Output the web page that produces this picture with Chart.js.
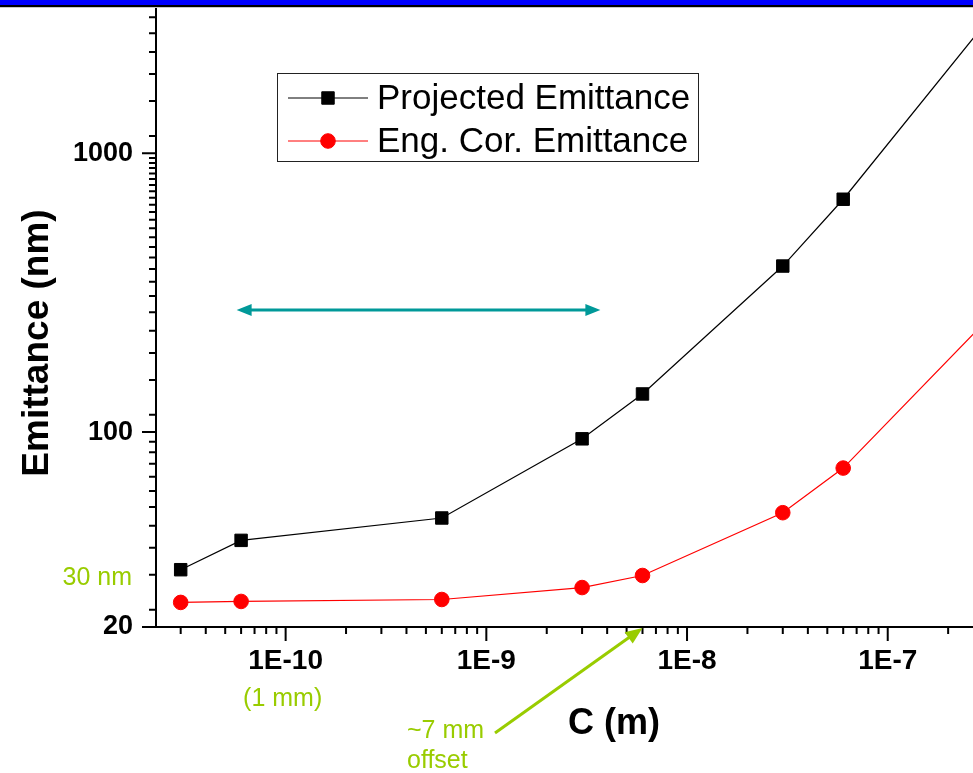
<!DOCTYPE html>
<html>
<head>
<meta charset="utf-8">
<script src="https://cdn.jsdelivr.net/npm/chart.js@4.4.0/dist/chart.umd.min.js"></script>
<style>
    html, body { margin: 0; padding: 0; background: #fff; overflow: hidden; }
    #wrap { position: relative; width: 973px; height: 773px; }
    #chart { position: absolute; left: 0; top: 0; }
    #bar  { position: absolute; left: 0; top: 0; width: 973px; height: 5px; background: #0000ff; border-bottom: 2px solid #000; }
    #rule { position: absolute; left: 0; top: 7px; width: 973px; height: 1px; background: #c8c8c8; }
</style>
</head>
<body>
<div id="wrap">
    <canvas id="chart" width="973" height="773"></canvas>
    <div id="bar"></div>
    <div id="rule"></div>
</div>
<script>
(function () {
    'use strict';

    // ── Data ─────────────────────────────────────────────────────────────────
    var cValues   = [3e-11, 6e-11, 6e-10, 3e-9, 6e-9, 3e-8, 6e-8, 3e-7];
    var projected = [32.1, 40.9, 49.2, 94.6, 137, 394, 684, 2870];
    var engCor    = [24.5, 24.7, 25.1, 27.7, 30.6, 51.4, 74.3, 245];

    var xMin = 2.26e-11, xMax = 2.66e-7;
    var yMin = 20,       yMax = 3318;

    var xTickValues = [1e-10, 1e-9, 1e-8, 1e-7];
    var xTickLabels = ['1E-10', '1E-9', '1E-8', '1E-7'];
    var yTickValues = [20, 100, 1000];
    var yTickLabels = ['20', '100', '1000'];

    // x minor ticks: 2..9 of every decade
    var xMinor = [];
    [1e-11, 1e-10, 1e-9, 1e-8, 1e-7].forEach(function (d) {
        for (var k = 2; k <= 9; k++) if (d * k >= xMin && d * k <= xMax) xMinor.push(d * k);
    });
    // y minor ticks as Origin drew them (odd spacing)
    var yMinor = [];
    var k;
    for (k = 3; k <= 12; k++) yMinor.push(k * 100 / 13);
    for (k = 3; k <= 25; k++) yMinor.push(k * 500 / 13);
    for (k = 3; k <= 8; k++)  yMinor.push(k * 5000 / 13);

    var FONT  = '"Liberation Sans", Arial, sans-serif';
    var GREEN = '#99cc00';
    var TEAL  = '#009999';

    function pts(ys) {
        return cValues.map(function (c, i) { return { x: c, y: ys[i] }; });
    }

    // edge ticks get a blank, tiny label so they add no padding
    function tickFont(list, size) {
        return function (c) {
            var labelled = c.tick && list.indexOf(c.tick.value) >= 0;
            return { family: FONT, size: labelled ? size : 1, weight: 'bold' };
        };
    }

    // ── Helpers ──────────────────────────────────────────────────────────────
    function arrowHead(ctx, x1, y1, x2, y2, len, half) {
        var ang = Math.atan2(y2 - y1, x2 - x1);
        ctx.beginPath();
        ctx.moveTo(x2, y2);
        ctx.lineTo(x2 - len * Math.cos(ang) + half * Math.sin(ang), y2 - len * Math.sin(ang) - half * Math.cos(ang));
        ctx.lineTo(x2 - len * Math.cos(ang) - half * Math.sin(ang), y2 - len * Math.sin(ang) + half * Math.cos(ang));
        ctx.closePath();
        ctx.fill();
    }

    // ── Ticks, legend, notes ─────────────────────────────────────────────────
    var decor = {
        id: 'decor',
        afterDraw: function (chart) {
            var ctx = chart.ctx, xs = chart.scales.x, ys = chart.scales.y, a = chart.chartArea;
            ctx.save();

            // tick marks
            ctx.strokeStyle = '#000';
            ctx.lineWidth = 2;
            ctx.beginPath();
            xTickValues.forEach(function (v) { var px = xs.getPixelForValue(v); ctx.moveTo(px, a.bottom); ctx.lineTo(px, a.bottom + 14); });
            xMinor.forEach(function (v) { var px = xs.getPixelForValue(v); ctx.moveTo(px, a.bottom); ctx.lineTo(px, a.bottom + 7); });
            yTickValues.forEach(function (v) { var py = ys.getPixelForValue(v); ctx.moveTo(a.left - 14, py); ctx.lineTo(a.left, py); });
            yMinor.forEach(function (v) { var py = ys.getPixelForValue(v); ctx.moveTo(a.left - 7, py); ctx.lineTo(a.left, py); });
            ctx.stroke();

            // axis titles
            ctx.fillStyle = '#000';
            ctx.textAlign = 'center';
            ctx.textBaseline = 'middle';
            ctx.font = 'bold 36px ' + FONT;
            ctx.fillText('C (m)', 614, 724);
            ctx.save();
            ctx.translate(38, 343);
            ctx.rotate(-Math.PI / 2);
            ctx.font = 'bold 37px ' + FONT;
            ctx.fillText('Emittance (nm)', 0, 0);
            ctx.restore();

            // legend
            ctx.lineWidth = 1;
            ctx.strokeStyle = '#222';
            ctx.strokeRect(277.5, 73.5, 421, 88);
            chart.data.datasets.forEach(function (ds, i) {
                var ly = 98 + i * 43;
                ctx.strokeStyle = ds.borderColor;
                ctx.lineWidth = 1;
                ctx.beginPath();
                ctx.moveTo(288, ly);
                ctx.lineTo(368, ly);
                ctx.stroke();
                ctx.fillStyle = ds.pointBackgroundColor;
                ctx.strokeStyle = ds.pointBorderColor;
                ctx.lineWidth = ds.pointBorderWidth;
                Chart.helpers.drawPoint(ctx, { pointStyle: ds.pointStyle, radius: ds.pointRadius, borderWidth: ds.pointBorderWidth, rotation: 0 }, 328, ly);
                ctx.fillStyle = '#000';
                ctx.textAlign = 'left';
                ctx.font = '35px ' + FONT;
                ctx.fillText(ds.label, 377, ly + 1);
            });

            // teal double arrow (range)
            var ty = ys.getPixelForValue(274);
            var tx1 = xs.getPixelForValue(5.7e-11), tx2 = xs.getPixelForValue(3.7e-9);
            ctx.strokeStyle = TEAL;
            ctx.fillStyle = TEAL;
            ctx.lineWidth = 3;
            ctx.beginPath();
            ctx.moveTo(tx1 + 8, ty);
            ctx.lineTo(tx2 - 8, ty);
            ctx.stroke();
            arrowHead(ctx, tx2, ty, tx1, ty, 15, 6);
            arrowHead(ctx, tx1, ty, tx2, ty, 15, 6);

            // green notes
            ctx.fillStyle = GREEN;
            ctx.strokeStyle = GREEN;
            ctx.font = '25px ' + FONT;
            ctx.textAlign = 'right';
            ctx.fillText('30 nm', a.left - 24, ys.getPixelForValue(30));
            ctx.textAlign = 'center';
            ctx.fillText('(1 mm)', xs.getPixelForValue(1e-10) - 3, 699);
            ctx.textAlign = 'left';
            ctx.fillText('~7 mm', 407, 731);
            ctx.fillText('offset', 407, 761);

            var gx = xs.getPixelForValue(6e-9), gy = a.bottom + 1;
            ctx.lineWidth = 3;
            ctx.beginPath();
            ctx.moveTo(495, 733);
            ctx.lineTo(gx - 10, gy + 7);
            ctx.stroke();
            arrowHead(ctx, 495, 733, gx, gy, 17, 7);

            ctx.restore();
        }
    };

    // ── Chart ────────────────────────────────────────────────────────────────
    new Chart(document.getElementById('chart'), {
        type: 'line',
        data: {
            datasets: [{
                label: 'Projected Emittance',
                data: pts(projected),
                borderColor: '#000000',
                borderWidth: 1.2,
                pointStyle: 'rect',
                pointRadius: 8.8,
                pointBackgroundColor: '#000000',
                pointBorderColor: '#000000',
                pointBorderWidth: 1,
                tension: 0
            }, {
                label: 'Eng. Cor. Emittance',
                data: pts(engCor),
                borderColor: '#ff0000',
                borderWidth: 1.2,
                pointStyle: 'circle',
                pointRadius: 7.3,
                pointBackgroundColor: '#ff0000',
                pointBorderColor: '#ff0000',
                pointBorderWidth: 1,
                tension: 0
            }]
        },
        options: {
            responsive: false,
            animation: false,
            layout: { autoPadding: false, padding: { top: 8, left: 0, right: 0, bottom: 0 } },
            plugins: { legend: { display: false }, tooltip: { enabled: false } },
            scales: {
                x: {
                    type: 'logarithmic',
                    position: 'bottom',
                    min: xMin,
                    max: xMax,
                    afterBuildTicks: function (s) {
                        s.ticks = [{ value: xMin }].concat(xTickValues.map(function (v) { return { value: v }; }), [{ value: xMax }]);
                    },
                    afterFit: function (s) { s.height = 146; },
                    ticks: {
                        autoSkip: false,
                        maxRotation: 0,
                        padding: 0,
                        color: '#000',
                        font: tickFont(xTickValues, 28),
                        callback: function (v) {
                            var i = xTickValues.indexOf(v);
                            return i < 0 ? '' : xTickLabels[i];
                        }
                    },
                    grid: { drawOnChartArea: false, drawTicks: true, tickLength: 17, tickColor: 'rgba(0,0,0,0)' },
                    border: { display: true, color: '#000', width: 2 }
                },
                y: {
                    type: 'logarithmic',
                    position: 'left',
                    min: yMin,
                    max: yMax,
                    afterBuildTicks: function (s) {
                        s.ticks = yTickValues.map(function (v) { return { value: v }; }).concat([{ value: yMax }]);
                    },
                    afterFit: function (s) { s.width = 156; },
                    ticks: {
                        autoSkip: false,
                        padding: 0,
                        color: '#000',
                        font: tickFont(yTickValues, 27),
                        callback: function (v) {
                            var i = yTickValues.indexOf(v);
                            return i < 0 ? '' : yTickLabels[i];
                        }
                    },
                    grid: { drawOnChartArea: false, drawTicks: true, tickLength: 23, tickColor: 'rgba(0,0,0,0)' },
                    border: { display: true, color: '#000', width: 2 }
                }
            }
        },
        plugins: [decor]
    });
})();
</script>
</body>
</html>
